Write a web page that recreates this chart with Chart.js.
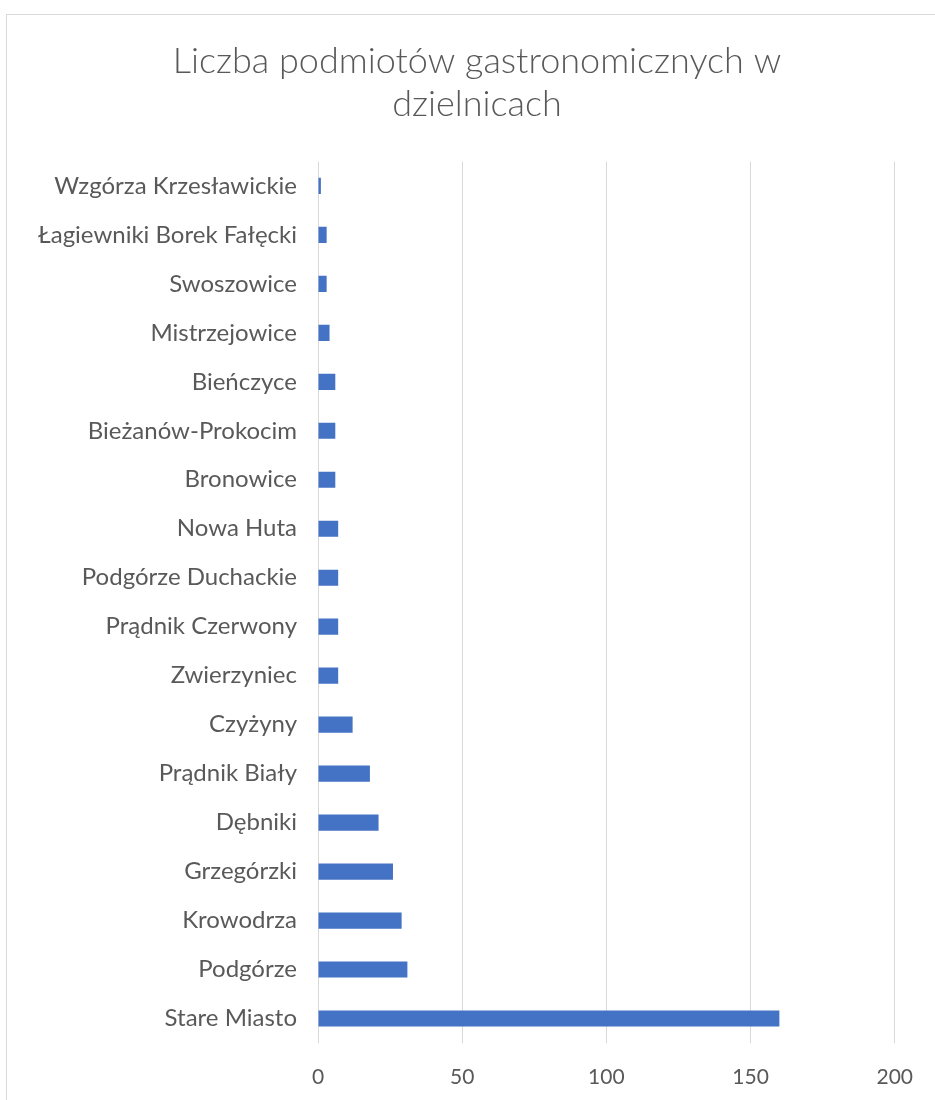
<!DOCTYPE html>
<html lang="pl">
<head>
    <meta charset="UTF-8">
    <title>Liczba podmiotów gastronomicznych w dzielnicach</title>
    <script src="https://cdn.jsdelivr.net/npm/chart.js"></script>
    <style>
        html, body { margin: 0; padding: 0; background: #fff; overflow: hidden; }
        #frame {
            position: absolute; left: 6px; top: 14px;
            width: 1000px; height: 1200px;
            border: 1px solid #d9d9d9;
        }
        #wrap { position: absolute; left: 0; top: 0; width: 935px; height: 1100px; }
    </style>
</head>
<body>
    <div id="frame"></div>
    <div id="wrap"><canvas id="chart" width="935" height="1100"></canvas></div>

    <script>
        // Dane
        const districts = [
            'Wzgórza Krzesławickie', 'Łagiewniki Borek Fałęcki', 'Swoszowice', 'Mistrzejowice',
            'Bieńczyce', 'Bieżanów-Prokocim', 'Bronowice', 'Nowa Huta', 'Podgórze Duchackie',
            'Prądnik Czerwony', 'Zwierzyniec', 'Czyżyny', 'Prądnik Biały', 'Dębniki',
            'Grzegórzki', 'Krowodrza', 'Podgórze', 'Stare Miasto'
        ];
        const counts = [1, 3, 3, 4, 6, 6, 6, 7, 7, 7, 7, 12, 18, 21, 26, 29, 31, 160];
        const xTicks = [0, 50, 100, 150, 200];
        const chartTitle = ['Liczba podmiotów gastronomicznych w', 'dzielnicach'];

        const grey = '#595959';

        // title is centred on the whole frame, not only over the plot
        const shiftTitle = {
            id: 'shiftTitle',
            afterLayout(chart) {
                if (chart.titleBlock) chart.titleBlock.left = 58;
            }
        };

        new Chart(document.getElementById('chart'), {
            type: 'bar',
            data: {
                labels: districts,
                datasets: [{
                    data: counts,
                    backgroundColor: '#4472C4',
                    barPercentage: 0.66,
                    categoryPercentage: 0.5
                }]
            },
            options: {
                indexAxis: 'y',
                responsive: false,
                animation: false,
                layout: { padding: { left: 10, right: 39, top: 40, bottom: 0 } },
                plugins: {
                    legend: { display: false },
                    tooltip: { enabled: false },
                    title: {
                        display: true,
                        text: chartTitle,
                        color: grey,
                        font: { family: 'Lato', size: 36, weight: 300, lineHeight: 1.2 },
                        padding: { top: 0, bottom: 35 }
                    }
                },
                scales: {
                    x: {
                        min: xTicks[0],
                        max: xTicks[xTicks.length - 1],
                        afterBuildTicks: s => { s.ticks = xTicks.map(v => ({ value: v })); },
                        afterFit: s => { s.height = 57; },
                        grid: { color: '#d9d9d9', drawTicks: false },
                        border: { display: false },
                        ticks: { color: grey, padding: 22, font: { family: 'Lato', size: 21 } }
                    },
                    y: {
                        grid: { display: false, drawTicks: false },
                        border: { display: false },
                        afterFit: s => { s.width = 308; },
                        ticks: { color: grey, padding: 21, font: { family: 'Lato', size: 24 } }
                    }
                }
            },
            plugins: [shiftTitle]
        });
    </script>
</body>
</html>
